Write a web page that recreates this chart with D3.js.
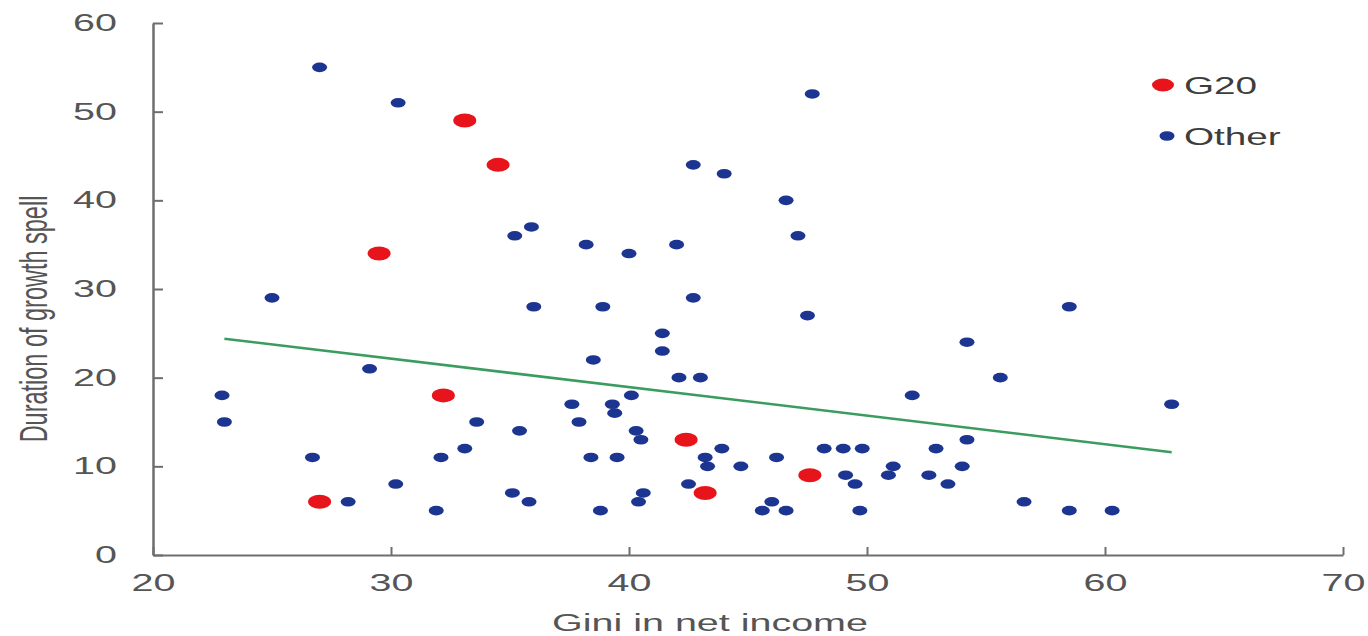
<!DOCTYPE html>
<html lang="en">
<head>
<meta charset="UTF-8">
<title>Gini vs duration of growth spell</title>
<script src="https://d3js.org/d3.v7.min.js"></script>
<style>
    body { margin: 0; background: #fff; }
    svg { display: block; font-family: "Liberation Sans", Arial, sans-serif; }
</style>
</head>
<body>
<svg width="1368" height="636"></svg>
<script>
// data
const g20X = [33.1, 34.5, 29.5, 32.2, 27.0, 42.4, 43.2, 47.6];
const g20Y = [49, 44, 34, 18, 6, 13, 7, 9];

const otherX = [27.0, 30.3, 47.7, 22.9, 23.0, 25.0, 26.7, 28.2, 29.1, 30.2,
    31.9, 32.1, 33.1, 33.6, 35.2, 35.9, 36.0, 35.1, 35.4, 35.8,
    38.2, 40.0, 38.9, 38.5, 37.6, 37.9, 38.4, 39.5, 38.8, 39.3,
    39.4, 40.1, 40.3, 40.5, 40.6, 40.4, 41.4, 41.4, 42.0, 42.1,
    43.0, 42.7, 42.7, 44.0, 42.5, 43.2, 43.3, 43.9, 44.7, 46.2,
    46.0, 45.6, 46.6, 46.6, 47.1, 47.5, 48.2, 49.0, 49.8, 49.1,
    49.5, 49.7, 50.9, 51.1, 51.9, 54.2, 55.6, 58.5, 62.8, 54.2,
    52.9, 54.0, 52.6, 53.4, 56.6, 58.5, 60.3];
const otherY = [55, 51, 52, 18, 15, 29, 11, 6, 21, 8,
    5, 11, 12, 15, 36, 37, 28, 7, 14, 6,
    35, 34, 28, 22, 17, 15, 11, 11, 5, 17,
    16, 18, 14, 13, 7, 6, 25, 23, 35, 20,
    20, 44, 29, 43, 8, 11, 10, 12, 10, 11,
    6, 5, 5, 40, 36, 27, 12, 12, 12, 9,
    8, 5, 9, 10, 18, 24, 20, 28, 17, 13,
    12, 10, 9, 8, 6, 5, 5];

const trendX = [23, 62.8];
const trendY = [24.4, 11.6];

const xTicks = [20, 30, 40, 50, 60, 70];
const yTicks = [0, 10, 20, 30, 40, 50, 60];

const legendNames = ["G20", "Other"];

// the original is stretched sideways, so text is widened to match
const stretch = 1.68;

const svg = d3.select("svg");
const x = d3.scaleLinear().domain([20, 70]).range([153, 1343]);
const y = d3.scaleLinear().domain([0, 60]).range([555, 23]);

const grey = "#6e6e6e";
const labelColor = "#555";

// y axis, ticks point inward
const yAxis = svg.append("g")
    .attr("transform", `translate(${x(20)},0)`)
    .call(d3.axisLeft(y).tickValues(yTicks).tickSizeInner(-10).tickSizeOuter(0).tickPadding(0));
yAxis.select(".domain").attr("stroke", grey).attr("stroke-width", 2.5);
yAxis.selectAll(".tick line").attr("stroke", grey).attr("stroke-width", 2);
yAxis.selectAll(".tick text")
    .attr("x", -36 / stretch)
    .attr("transform", `scale(${stretch},1)`)
    .attr("fill", labelColor)
    .attr("font-size", 23.5)
    .attr("font-family", "Liberation Sans, Arial, sans-serif");

// x axis, ticks point up
const xAxis = svg.append("g")
    .attr("transform", `translate(0,${y(0)})`)
    .call(d3.axisBottom(x).tickValues(xTicks).tickSizeInner(-8).tickSizeOuter(0).tickPadding(19));
xAxis.select(".domain").attr("stroke", grey).attr("stroke-width", 2);
xAxis.selectAll(".tick line").attr("stroke", grey).attr("stroke-width", 2);
xAxis.selectAll(".tick text")
    .attr("transform", `scale(${stretch},1)`)
    .attr("fill", labelColor)
    .attr("font-size", 23.5)
    .attr("font-family", "Liberation Sans, Arial, sans-serif");

// axis titles
svg.append("text")
    .attr("transform", `translate(710,631) scale(${stretch},1)`)
    .attr("text-anchor", "middle")
    .attr("fill", labelColor)
    .attr("font-size", 23.5)
    .text("Gini in net income");

svg.append("text")
    .attr("transform", `translate(47,319) scale(${stretch},1) rotate(-90)`)
    .attr("text-anchor", "middle")
    .attr("fill", labelColor)
    .attr("font-size", 23.5)
    .text("Duration of growth spell");

// trend line
const line = d3.line().x((d, i) => x(trendX[i])).y(d => y(d));
svg.append("path")
    .attr("d", line(trendY))
    .attr("fill", "none")
    .attr("stroke", "#3a9c5e")
    .attr("stroke-width", 2.5);

// other countries
svg.append("g").selectAll("ellipse")
    .data(otherY)
    .join("ellipse")
    .attr("cx", (d, i) => x(otherX[i]))
    .attr("cy", d => y(d))
    .attr("rx", 7.5)
    .attr("ry", 4.8)
    .attr("fill", "#1c3590");

// G20 countries
svg.append("g").selectAll("ellipse")
    .data(g20Y)
    .join("ellipse")
    .attr("cx", (d, i) => x(g20X[i]))
    .attr("cy", d => y(d))
    .attr("rx", 11.5)
    .attr("ry", 7)
    .attr("fill", "#e8141b");

// legend
const legend = svg.append("g");
const legendItems = [
    { name: legendNames[0], color: "#e8141b", rx: 11, ry: 6.5, cx: 1163, cy: 85 },
    { name: legendNames[1], color: "#1c3590", rx: 7.5, ry: 4.8, cx: 1167, cy: 136 }
];
legendItems.forEach(d => {
    legend.append("ellipse")
        .attr("cx", d.cx).attr("cy", d.cy)
        .attr("rx", d.rx).attr("ry", d.ry)
        .attr("fill", d.color);
    legend.append("text")
        .attr("transform", `translate(1184,${d.cy + 8.5}) scale(${stretch * 0.96},1)`)
        .attr("fill", "#3d3d3d")
        .attr("font-size", 24)
        .text(d.name);
});
</script>
</body>
</html>
